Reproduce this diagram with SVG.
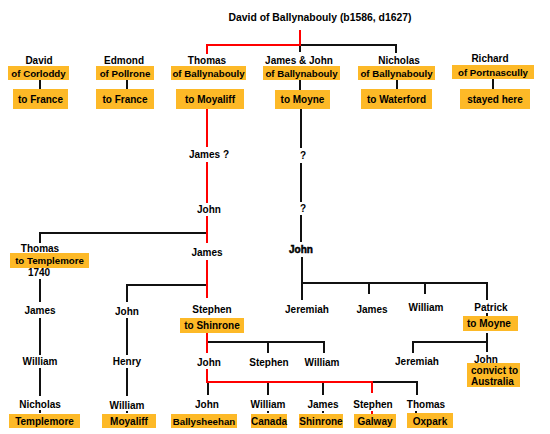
<svg xmlns="http://www.w3.org/2000/svg" width="550" height="434" viewBox="0 0 550 434">
<style>
text{font-family:"Liberation Sans",Arial,sans-serif;font-size:10px;font-weight:bold;fill:#000;text-anchor:middle}
.l{text-anchor:start}
.t{font-size:10.4px}
.b{font-size:9.7px}
.box{fill:#FDB927}
.k{fill:none;stroke:#111;stroke-width:2}
.r{fill:none;stroke:#FF0000;stroke-width:2}
.hv{stroke:#000;stroke-width:0.5}
</style>
<rect width="550" height="434" fill="#fff"/>
<g id="connectors">
<path class="k" d="M300,45 H396 V53 M300,45 V52 M300,80 V90"/>
<path class="k" d="M40,80 V89 M127,80 V89 M397,80 V89 M493,79 V89"/>
<path class="k" d="M301,109 V148 M301,163 V202 M301,215 V242 M302,257 V300 M302,283 H487 V300 M369,283 V294 M425,283 V294 M487,313 V316"/>
<path class="k" d="M207,233 H40 V243 M40,279 V302 M40,318 V355 M40,368 V396 M40,410 V413"/>
<path class="k" d="M207,285 H127 V302 M127,318 V355 M127,368 V396 M127,411 V413"/>
<path class="k" d="M207,342 H324 V353 M268,342 V353"/>
<path class="k" d="M208,382 V395 M268,382 V395 M323,382 V395 M372,382 H417 V395 M268,411 V413 M323,411 V413 M416,411 V413"/>
<path class="k" d="M487,333 V352 M487,342 H413 V353"/>
<path class="r" d="M300,30 V45 H207 V54 M207,109 V147 M207,162 V203 M207,216 V243 M207,260 V298 M207,333 V353 M207,369 V382 H372 V393 M372,411 V414"/>
</g>
<g id="david_top"><text class="t" x="320" y="21">David of Ballynabouly (b1586, d1627)</text></g>
<g id="david">
<text x="39" y="64">David</text>
<rect class="box" x="8" y="66" width="61" height="14"/><text class="b" x="38.5" y="76.5">of Corloddy</text>
<rect class="box" x="13" y="89" width="55" height="20"/><text x="40.5" y="102.5">to France</text>
</g>
<g id="edmond">
<text x="124" y="64">Edmond</text>
<rect class="box" x="96" y="66" width="58" height="14"/><text class="b" x="125" y="76.5">of Pollrone</text>
<rect class="box" x="96" y="89" width="58" height="20"/><text x="125" y="102.5">to France</text>
</g>
<g id="thomas">
<text x="207" y="64">Thomas</text>
<rect class="box" x="171" y="66" width="75" height="14"/><text class="b" x="208.5" y="76.5">of Ballynabouly</text>
<rect class="box" x="176" y="89" width="68" height="20"/><text x="210" y="102.5">to Moyaliff</text>
</g>
<g id="jamesjohn">
<text x="299" y="64">James &amp; John</text>
<rect class="box" x="263" y="66" width="77" height="14"/><text class="b" x="301.5" y="76.5">of Ballynabouly</text>
<rect class="box" x="275" y="90" width="55" height="19"/><text x="302.5" y="103">to Moyne</text>
</g>
<g id="nicholas">
<text x="399" y="64">Nicholas</text>
<rect class="box" x="358" y="66" width="77" height="14"/><text class="b" x="396.5" y="76.5">of Ballynabouly</text>
<rect class="box" x="361" y="89" width="71" height="20"/><text x="396.5" y="102.5">to Waterford</text>
</g>
<g id="richard">
<text x="490" y="62">Richard</text>
<rect class="box" x="452" y="65" width="82" height="14"/><text class="b" x="493" y="75.5">of Portnascully</text>
<rect class="box" x="460" y="89" width="70" height="20"/><text x="495" y="102.5">stayed here</text>
</g>
<g id="james_q"><text x="209" y="157.5">James ?</text></g>
<g id="q1"><text x="303" y="159">?</text></g>
<g id="john_a"><text x="209" y="212.5">John</text></g>
<g id="q2"><text x="303" y="211.5">?</text></g>
<g id="james_a"><text x="207" y="255.5">James</text></g>
<g id="john_b"><text class="hv" x="301" y="252.5">John</text></g>
<g id="thomas_t">
<text x="40" y="251.5">Thomas</text>
<rect class="box" x="10" y="253" width="79" height="15"/><text class="b" x="49.5" y="264">to Templemore</text>
<text x="39" y="275.5">1740</text>
</g>
<g id="james_t"><text x="40" y="313.5">James</text></g>
<g id="william_t"><text x="40" y="364.5">William</text></g>
<g id="nicholas_t">
<text x="40" y="407.5">Nicholas</text>
<rect class="box" x="9" y="414" width="71" height="14"/><text x="44.5" y="424.5">Templemore</text>
</g>
<g id="john_m"><text x="127" y="314.5">John</text></g>
<g id="henry"><text x="127" y="364.5">Henry</text></g>
<g id="william_m">
<text x="127" y="409">William</text>
<rect class="box" x="102" y="414" width="54" height="14"/><text x="129" y="424.5">Moyaliff</text>
</g>
<g id="stephen_s">
<text x="212" y="312.5">Stephen</text>
<rect class="box" x="180" y="318" width="64" height="15"/><text x="212" y="329">to Shinrone</text>
</g>
<g id="john_s"><text x="209" y="365.5">John</text></g>
<g id="stephen_2"><text x="269" y="365.5">Stephen</text></g>
<g id="william_2"><text x="322" y="365.5">William</text></g>
<g id="john_bs">
<text x="207" y="407.5">John</text>
<rect class="box" x="171" y="414" width="66" height="14"/><text class="b" x="204" y="424.5">Ballysheehan</text>
</g>
<g id="william_c">
<text x="268" y="407.5">William</text>
<rect class="box" x="251" y="414" width="36" height="14"/><text x="269" y="424.5">Canada</text>
</g>
<g id="james_sh">
<text x="323" y="407.5">James</text>
<rect class="box" x="299" y="414" width="44" height="14"/><text x="321" y="424.5">Shinrone</text>
</g>
<g id="stephen_g">
<text x="373" y="407.5">Stephen</text>
<rect class="box" x="354" y="414" width="42" height="14"/><text x="375" y="424.5">Galway</text>
</g>
<g id="thomas_o">
<text x="426" y="407.5">Thomas</text>
<rect class="box" x="407" y="413" width="46" height="15"/><text x="430" y="424.5">Oxpark</text>
</g>
<g id="jeremiah_1"><text x="307" y="312.5">Jeremiah</text></g>
<g id="james_r"><text x="372" y="312.5">James</text></g>
<g id="william_r"><text x="426" y="310.5">William</text></g>
<g id="patrick">
<text x="491" y="310.5">Patrick</text>
<rect class="box" x="463" y="316" width="55" height="15"/><text class="l" x="467" y="327">to Moyne</text>
</g>
<g id="jeremiah_2"><text x="417" y="364.5">Jeremiah</text></g>
<g id="john_c">
<text x="486" y="362.5">John</text>
<rect class="box" x="467" y="363" width="53" height="24"/>
<text class="l" x="471" y="373.5">convict to</text>
<text class="l" x="471" y="385">Australia</text>
</g>
</svg>
